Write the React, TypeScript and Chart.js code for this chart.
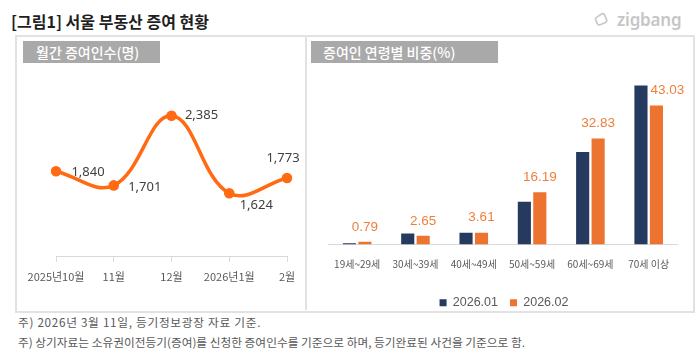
import React, { useEffect, useRef } from "react";
import { Chart, registerables } from "chart.js";

Chart.register(...registerables);

// ---------- data ----------
const lineLabels = ["2025년10월", "11월", "12월", "2026년1월", "2월"];
const lineValues = [1840, 1701, 2385, 1624, 1773];

const ageCategories = ["19세~29세", "30세~39세", "40세~49세", "50세~59세", "60세~69세", "70세 이상"];
const seriesNames = ["2026.01", "2026.02"];
const janShares = [0.35, 3.35, 3.6, 13.2, 28.6, 49.2];
const febShares = [0.79, 2.65, 3.61, 16.19, 32.83, 43.03];

// ---------- styles ----------
const LINE_ORANGE = "#ff6a13";
const NAVY = "#253a5e";
const BAR_ORANGE = "#ed7430";
const BAR_LABEL = "#ef7f3c";
const GRID = "#d9d9d9";
const TICK_TEXT = "#595959";
const KR = '"Noto Sans CJK KR", "Noto Sans", sans-serif';
const LAT = '"Liberation Sans", Arial, sans-serif';

// label offsets relative to each point (px)
const LINE_LABEL_OFFSETS: [number, number][] = [
  [32, 1],
  [31, 2],
  [30, 0],
  [27, 12],
  [-4, -20],
];
const BAR_LABEL_DX = [0, 0, 0, 0, 0, 11];

const lineLabelPlugin = {
  id: "lineValueLabels",
  afterDatasetsDraw(chart: any) {
    const ctx = chart.ctx;
    const meta = chart.getDatasetMeta(0);
    ctx.save();
    ctx.font = '13px "Noto Sans", sans-serif';
    ctx.fillStyle = "#404040";
    ctx.textAlign = "center";
    ctx.textBaseline = "middle";
    meta.data.forEach((pt: any, i: number) => {
      const [dx, dy] = LINE_LABEL_OFFSETS[i];
      ctx.fillText(lineValues[i].toLocaleString("en-US"), pt.x + dx, pt.y + dy);
    });
    ctx.restore();
  },
};

const barLabelPlugin = {
  id: "barValueLabels",
  afterDatasetsDraw(chart: any) {
    const ctx = chart.ctx;
    const meta = chart.getDatasetMeta(1);
    ctx.save();
    ctx.font = "13.5px " + LAT;
    ctx.fillStyle = BAR_LABEL;
    ctx.textAlign = "center";
    ctx.textBaseline = "middle";
    meta.data.forEach((bar: any, i: number) => {
      ctx.fillText(febShares[i].toFixed(2), bar.x + BAR_LABEL_DX[i], bar.y - 15);
    });
    ctx.restore();
  },
};

function LineChart() {
  const ref = useRef<HTMLCanvasElement>(null);
  useEffect(() => {
    const chart = new Chart(ref.current as HTMLCanvasElement, {
      type: "line",
      data: {
        labels: lineLabels,
        datasets: [
          {
            data: lineValues,
            borderColor: LINE_ORANGE,
            backgroundColor: LINE_ORANGE,
            borderWidth: 3.5,
            pointRadius: 5.3,
            pointBorderWidth: 0,
            pointBackgroundColor: LINE_ORANGE,
            tension: 0.4,
          },
        ],
      },
      options: {
        responsive: false,
        animation: false,
        layout: { padding: { left: 40, right: 19, top: 40, bottom: 0 } },
        plugins: { legend: { display: false }, tooltip: { enabled: false } },
        scales: {
          x: {
            offset: false,
            grid: { display: true, drawOnChartArea: false, drawTicks: true, tickLength: 5, color: GRID },
            border: { display: true, color: GRID, width: 1 },
            ticks: {
              padding: 8,
              color: TICK_TEXT,
              font: { size: 11, family: KR },
              maxRotation: 0,
              autoSkip: false,
            },
          },
          y: { display: false, min: 1000, max: 2500 },
        },
      },
      plugins: [lineLabelPlugin],
    } as any);
    return () => chart.destroy();
  }, []);
  return (
    <canvas
      ref={ref}
      width={290}
      height={227}
      style={{ position: "absolute", left: 16, top: 64, width: 290, height: 227 }}
    />
  );
}

function BarChart() {
  const ref = useRef<HTMLCanvasElement>(null);
  useEffect(() => {
    const chart = new Chart(ref.current as HTMLCanvasElement, {
      type: "bar",
      data: {
        labels: ageCategories,
        datasets: [
          {
            label: seriesNames[0],
            data: janShares,
            backgroundColor: NAVY,
            categoryPercentage: 0.53,
            barPercentage: 0.85,
          },
          {
            label: seriesNames[1],
            data: febShares,
            backgroundColor: BAR_ORANGE,
            categoryPercentage: 0.53,
            barPercentage: 0.85,
          },
        ],
      },
      options: {
        responsive: false,
        animation: false,
        layout: { padding: { left: 20, right: 10, top: 19, bottom: 0 } },
        plugins: {
          legend: {
            position: "bottom",
            labels: {
              boxWidth: 7,
              boxHeight: 7,
              color: TICK_TEXT,
              font: { size: 12.5, family: LAT },
              padding: 12,
            },
          },
          tooltip: { enabled: false },
        },
        scales: {
          x: {
            grid: { display: false, drawTicks: false },
            border: { display: true, color: GRID, width: 1 },
            ticks: {
              padding: 20,
              color: TICK_TEXT,
              font: { size: 10, family: KR, lineHeight: 0.01 },
              maxRotation: 0,
              autoSkip: false,
            },
          },
          y: { display: false, min: 0, max: 50 },
        },
      },
      plugins: [barLabelPlugin],
    } as any);
    return () => chart.destroy();
  }, []);
  return (
    <canvas
      ref={ref}
      width={382}
      height={255}
      style={{ position: "absolute", left: 308, top: 64, width: 382, height: 255 }}
    />
  );
}

function Logo() {
  return (
    <div style={{ position: "absolute", left: 594, top: 8, height: 22, display: "flex", alignItems: "center" }}>
      <svg width="14" height="14" viewBox="0 0 14 14" style={{ marginRight: 9 }}>
        <path
          d="M3 4.5 L8.5 2.2 Q10.5 1.6 11.3 3.4 L12.3 8.8 Q12.6 10.8 10.6 11.4 L5 12.4 Q3 12.6 2.4 10.8 L1.6 6.4 Q1.4 5.1 3 4.5 Z"
          fill="none"
          stroke="#c8c8c8"
          strokeWidth="1.7"
          transform="rotate(-12 7 7)"
        />
      </svg>
      <span style={{ font: '600 17px "Noto Sans", sans-serif', color: "#c6c6c6", letterSpacing: -0.2 }}>zigbang</span>
    </div>
  );
}

const headerStyle: React.CSSProperties = {
  position: "absolute",
  top: 41,
  height: 22,
  background: "#a9a9a9",
  color: "#ffffff",
  font: "500 14px " + KR,
  lineHeight: "22px",
  boxSizing: "border-box",
  whiteSpace: "nowrap",
};

const noteStyle: React.CSSProperties = {
  position: "absolute",
  left: 18,
  font: "11.7px " + KR,
  color: "#595959",
  lineHeight: "16px",
  whiteSpace: "nowrap",
};

export default function App() {
  return (
    <div
      style={{
        position: "absolute",
        left: 0,
        top: 0,
        width: 700,
        height: 360,
        background: "#ffffff",
        overflow: "hidden",
        fontFamily: KR,
      }}
    >
      <div
        style={{
          position: "absolute",
          left: 11,
          top: 10,
          font: "bold 16px " + KR,
          color: "#1f1f1f",
          lineHeight: "22px",
          whiteSpace: "nowrap",
        }}
      >
        [그림1] 서울 부동산 증여 현황
      </div>
      <Logo />
      {/* outer box */}
      <div
        style={{
          position: "absolute",
          left: 15,
          top: 35,
          width: 676,
          height: 274,
          border: "2px solid #e2e2e2",
        }}
      />
      <div style={{ position: "absolute", left: 305, top: 36, width: 2, height: 274, background: "#e2e2e2" }} />
      {/* panel headers */}
      <div style={{ ...headerStyle, left: 23, width: 137, paddingLeft: 13 }}>월간 증여인수(명)</div>
      <div style={{ ...headerStyle, left: 311, width: 187, paddingLeft: 12 }}>증여인 연령별 비중(%)</div>
      <LineChart />
      <BarChart />
      <div style={{ ...noteStyle, top: 314, letterSpacing: 0.7 }}>주) 2026년 3월 11일, 등기정보광장 자료 기준.</div>
      <div style={{ ...noteStyle, top: 334 }}>
        주) 상기자료는 소유권이전등기(증여)를 신청한 증여인수를 기준으로 하며, 등기완료된 사건을 기준으로 함.
      </div>
    </div>
  );
}
